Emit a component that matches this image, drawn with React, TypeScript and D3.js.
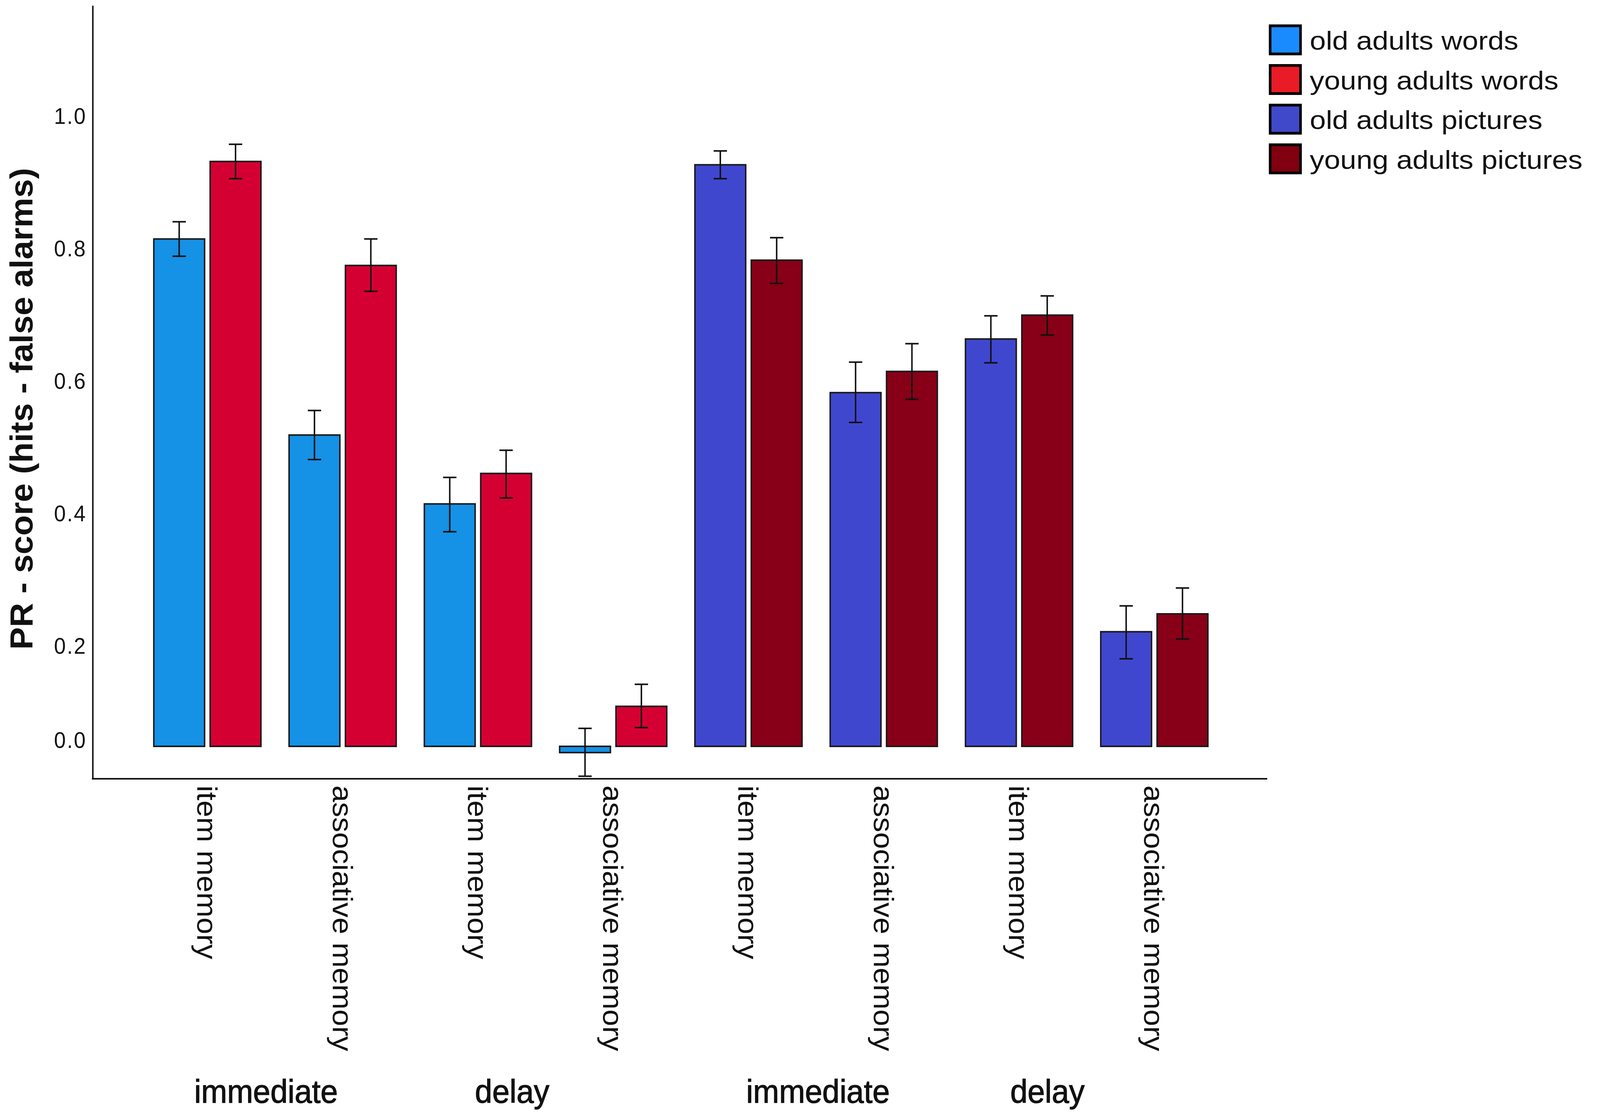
import React, { useEffect, useRef } from 'react';
import * as d3 from 'd3';

// x categories (8 groups of two bars)
const conditions = [
  'item memory', 'associative memory', 'item memory', 'associative memory',
  'item memory', 'associative memory', 'item memory', 'associative memory',
];
const materials = ['words', 'words', 'words', 'words', 'pictures', 'pictures', 'pictures', 'pictures'];

// PR scores (mean and error bar ends)
const oldMeans = [0.815, 0.519, 0.415, -0.0125, 0.927, 0.583, 0.664, 0.222];
const oldLo = [0.789, 0.482, 0.373, -0.06, 0.906, 0.538, 0.628, 0.175];
const oldHi = [0.841, 0.556, 0.455, 0.036, 0.948, 0.629, 0.699, 0.261];
const youngMeans = [0.932, 0.775, 0.461, 0.08, 0.783, 0.615, 0.7, 0.249];
const youngLo = [0.906, 0.736, 0.424, 0.0375, 0.748, 0.573, 0.67, 0.211];
const youngHi = [0.958, 0.815, 0.496, 0.124, 0.817, 0.657, 0.729, 0.288];

const yTicks = [0, 0.2, 0.4, 0.6, 0.8, 1.0];

const seriesNames = ['old adults words', 'young adults words', 'old adults pictures', 'young adults pictures'];
const seriesColors = ['#1591E6', '#D50032', '#4047CF', '#870017'];
const legendColors = ['#1A8BFF', '#E81B27', '#4049C9', '#800010'];

// phase labels under the categories, positioned in group-index units
const phaseLabels = ['immediate', 'delay', 'immediate', 'delay'];
const phasePositions = [0.434, 2.253, 4.514, 6.21];

const W = 4317;
const H = 2856;
const FONT = '"Liberation Sans", Arial, Helvetica, sans-serif';

const App: React.FC = () => {
  const svgRef = useRef<SVGSVGElement>(null);

  useEffect(() => {
    if (!svgRef.current) return;
    document.body.style.margin = '0';
    document.body.style.overflow = 'hidden';

    const svg = d3.select(svgRef.current);
    svg.selectAll('*').remove();

    const axisX = 250;
    const axisRight = 3419;

    // SPSS axis is not evenly spaced between 0 and 0.2
    const y = d3.scaleLinear()
      .domain([-0.065, 0, 0.2, 1.0, 1.1676])
      .range([1993, 1910, 1654, 298, 14]);

    const idx = conditions.map((_, i) => String(i));
    const x0 = d3.scaleBand<string>()
      .domain(idx)
      .range([377, 3297])
      .paddingInner(0.208)
      .paddingOuter(0.104);
    const x1 = d3.scaleBand<string>()
      .domain(['old', 'young'])
      .range([0, x0.bandwidth()])
      .paddingInner(0.0987);

    const center = (i: number) => (x0(String(i)) as number) + x0.bandwidth() / 2;
    const pos = d3.scaleLinear().domain([0, 7]).range([center(0), center(7)]);

    svg.append('rect').attr('width', W).attr('height', H).attr('fill', '#fff');

    // bars
    const rows = conditions.flatMap((c, i) => {
      const base = materials[i] === 'pictures' ? 2 : 0;
      return [
        { i, sub: 'old', v: oldMeans[i], lo: oldLo[i], hi: oldHi[i], color: seriesColors[base] },
        { i, sub: 'young', v: youngMeans[i], lo: youngLo[i], hi: youngHi[i], color: seriesColors[base + 1] },
      ];
    });

    const g = svg.append('g');
    g.selectAll('rect.bar')
      .data(rows)
      .enter()
      .append('rect')
      .attr('class', 'bar')
      .attr('x', d => (x0(String(d.i)) as number) + (x1(d.sub) as number))
      .attr('y', d => Math.min(y(d.v), y(0)))
      .attr('width', x1.bandwidth())
      .attr('height', d => Math.abs(y(d.v) - y(0)))
      .attr('fill', d => d.color)
      .attr('stroke', '#1a1a1a')
      .attr('stroke-width', 4);

    // error bars
    const cap = 18;
    const eb = g.selectAll('g.err').data(rows).enter().append('g').attr('class', 'err')
      .attr('stroke', '#111').attr('stroke-width', 4);
    const cx = (d: any) => (x0(String(d.i)) as number) + (x1(d.sub) as number) + x1.bandwidth() / 2;
    eb.append('line').attr('x1', cx).attr('x2', cx).attr('y1', d => y(d.lo)).attr('y2', d => y(d.hi));
    eb.append('line').attr('x1', d => cx(d) - cap).attr('x2', d => cx(d) + cap)
      .attr('y1', d => y(d.hi)).attr('y2', d => y(d.hi));
    eb.append('line').attr('x1', d => cx(d) - cap).attr('x2', d => cx(d) + cap)
      .attr('y1', d => y(d.lo)).attr('y2', d => y(d.lo));

    // y axis
    const yAxis = svg.append('g')
      .attr('transform', `translate(${axisX},0)`)
      .call(d3.axisLeft(y).tickValues(yTicks).tickSize(0).tickPadding(16).tickFormat(d3.format('.1f')));
    yAxis.select('.domain').attr('stroke', '#111').attr('stroke-width', 4);
    yAxis.selectAll('text')
      .attr('font-family', FONT)
      .attr('font-size', 57)
      .attr('letter-spacing', 3)
      .attr('fill', '#111')
      .attr('dy', (d: any) => (d === 0 ? '0.07em' : '0.32em'));

    // x axis line
    svg.append('line')
      .attr('x1', axisX - 2).attr('x2', axisRight)
      .attr('y1', y(-0.065)).attr('y2', y(-0.065))
      .attr('stroke', '#111').attr('stroke-width', 4);

    // category labels, rotated
    svg.append('g').selectAll('text')
      .data(conditions)
      .enter()
      .append('text')
      .attr('transform', (_, i) => `translate(${center(i) - 27},2010) rotate(90)`)
      .attr('font-family', FONT)
      .attr('font-size', 77)
      .attr('fill', '#111')
      .text(d => d);

    // phase labels
    svg.append('g').selectAll('text')
      .data(phaseLabels)
      .enter()
      .append('text')
      .attr('x', (_, k) => pos(phasePositions[k]))
      .attr('y', 2822)
      .attr('text-anchor', 'middle')
      .attr('font-family', FONT)
      .attr('font-size', 84)
      .attr('fill', '#111')
      .attr('stroke', '#111')
      .attr('stroke-width', 1.5)
      .text(d => d);

    // y title
    svg.append('text')
      .attr('transform', 'translate(87,1046) rotate(-90)')
      .attr('text-anchor', 'middle')
      .attr('font-family', FONT)
      .attr('font-size', 86)
      .attr('font-weight', 'bold')
      .attr('fill', '#111')
      .text('PR - score (hits - false alarms)');

    // legend
    const legend = svg.append('g').attr('transform', 'translate(3427,102)');
    const item = legend.selectAll('g').data(seriesNames).enter().append('g')
      .attr('transform', (_, i) => `translate(0,${i * 101.5})`);
    item.append('rect')
      .attr('x', 0).attr('y', -36)
      .attr('width', 82).attr('height', 72)
      .attr('fill', (_, i) => legendColors[i])
      .attr('stroke', '#000')
      .attr('stroke-width', 7);
    item.append('text')
      .attr('transform', 'translate(107,25) scale(1.18,1)')
      .attr('font-family', FONT)
      .attr('font-size', 66)
      .attr('fill', '#111')
      .text(d => d);
  }, []);

  return (
    <svg
      ref={svgRef}
      viewBox={`0 0 ${W} ${H}`}
      preserveAspectRatio="none"
      style={{ position: 'absolute', left: 0, top: 0, width: '100vw', height: '100vh', display: 'block' }}
    />
  );
};

export default App;
